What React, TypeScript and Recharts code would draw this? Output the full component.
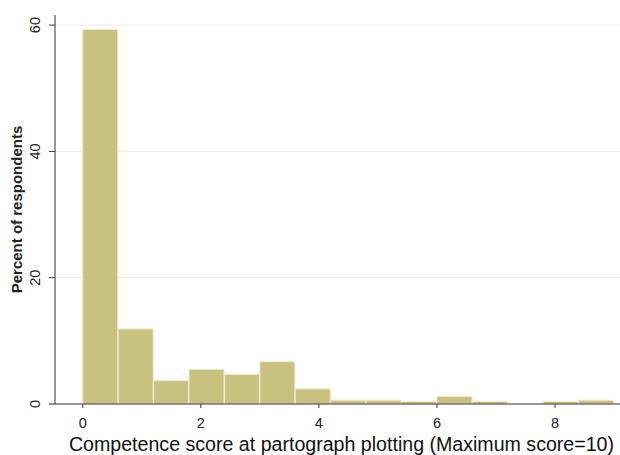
import React from "react";
import { BarChart, Bar, XAxis, YAxis, CartesianGrid } from "recharts";

// histogram bins (width 0.6), mid points and percent of respondents
const binMid = [0.3, 0.9, 1.5, 2.1, 2.7, 3.3, 3.9, 4.5, 5.1, 5.7, 6.3, 6.9, 7.5, 8.1, 8.7];
const percent = [59.3, 11.9, 3.7, 5.5, 4.7, 6.7, 2.4, 0.6, 0.6, 0.4, 1.2, 0.4, 0, 0.4, 0.6];
const xTicks = [0, 2, 4, 6, 8];
const yTicks = [0, 20, 40, 60];

const data = binMid.map((mid, i) => ({ mid, pct: percent[i] }));

const FONT = "'Liberation Sans', Arial, sans-serif";
const FILL = "#c9c27f";
const AXIS = "#333";

const YTick = ({ x, y, payload }: any) => {
  const bx = x - 7;
  return (
    <text x={bx} y={y} transform={`rotate(-90, ${bx}, ${y})`} textAnchor="middle" fontSize={14.5} fill="#222" fontFamily={FONT}>
      {payload.value}
    </text>
  );
};

const YTitle = ({ viewBox }: any) => {
  const cy = viewBox.y + viewBox.height / 2;
  return (
    <text x={22} y={cy} transform={`rotate(-90, 22, ${cy})`} textAnchor="middle" fontSize={15} fontWeight="bold" fill="#222" fontFamily={FONT}>
      Percent of respondents
    </text>
  );
};

export default function App() {
  return (
    <div style={{ position: "absolute", left: 0, top: 0, background: "#fff" }}>
      <BarChart
        width={620}
        height={455}
        data={data}
        margin={{ top: 15, right: 0, left: 0, bottom: 0 }}
        barCategoryGap={0}
        barGap={0}
      >
        <CartesianGrid horizontal vertical={false} stroke="#ebebeb" horizontalValues={[20, 40, 60]} />
        <XAxis
          dataKey="mid"
          type="number"
          domain={[-0.47, 9.1]}
          allowDataOverflow
          ticks={xTicks}
          height={51}
          tickSize={4}
          tickMargin={10}
          stroke={AXIS}
          tick={{ fontSize: 14.5, fill: "#222", fontFamily: FONT }}
          label={{
            value: "Competence score at partograph plotting (Maximum score=10)",
            position: "insideBottom",
            offset: 4,
            dx: 4,
            fontSize: 19.6,
            fill: "#111",
            fontFamily: FONT,
          }}
        />
        <YAxis
          type="number"
          domain={[0, 61.6]}
          allowDataOverflow
          ticks={yTicks}
          width={55}
          tickSize={6}
          tickMargin={2}
          stroke={AXIS}
          tick={<YTick />}
          label={<YTitle />}
        />
        <Bar dataKey="pct" fill={FILL} stroke="#eeebd2" strokeWidth={1} isAnimationActive={false} />
      </BarChart>
    </div>
  );
}
